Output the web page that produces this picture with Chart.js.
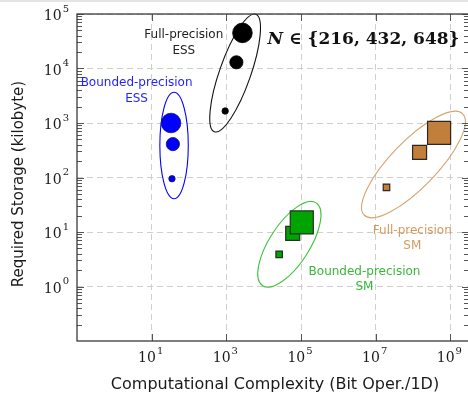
<!DOCTYPE html>
<html>
<head>
<meta charset="utf-8">
<script src="https://cdn.jsdelivr.net/npm/chart.js@4"></script>
<style>
  html, body { margin: 0; padding: 0; background: #fff; overflow: hidden; }
  #wrap { position: relative; width: 470px; height: 395px; }
  #topline { position: absolute; left: 0; top: 0; width: 468px; height: 2px; background: #e4e4e4; }
</style>
</head>
<body>
<div id="wrap"><canvas id="chart" width="470" height="395"></canvas></div>
<div id="topline"></div>
<script>
// tick values
const xTicks = [1e1, 1e3, 1e5, 1e7, 1e9];
const yTicks = [1e0, 1e1, 1e2, 1e3, 1e4, 1e5];
const nValues = [216, 432, 648];

// one point per N (216, 432, 648)
const fullEssX = [930, 1860, 2700];
const fullEssY = [1660, 13000, 45000];
const boundEssX = [35, 37, 33];
const boundEssY = [95, 410, 1000];
const fullSmX = [1.95e7, 1.5e8, 5.0e8];
const fullSmY = [66, 290, 660];
const boundSmX = [2.6e4, 6.0e4, 1.05e5];
const boundSmY = [3.9, 9.4, 15];

// group rings and captions, in data coordinates
const groups = [
  { ring: "#0000ff", text: "#1f1fff", center: [39.8, 386], tip: [39.8, 3660], ratio: 0.267,
    lines: ["Bounded-precision", "ESS"], at: [3.94, 5420] },
  { ring: "#111111", text: "#222222", center: [1720, 8260], tip: [6150, 99000], ratio: 0.25,
    lines: ["Full-precision", "ESS"], at: [72.6, 41200] },
  { ring: "#3cc43c", text: "#38b838", center: [48800, 5.94], tip: [254000, 34.2], ratio: 0.406,
    lines: ["Bounded-precision", "SM"], at: [5.02e6, 1.88] },
  { ring: "#d6a46e", text: "#d29a5e", center: [1.03e8, 173], tip: [2.13e9, 1475], ratio: 0.327,
    lines: ["Full-precision", "SM"], at: [9.57e7, 10.5] },
];

const circleRadius = [3.2, 6.6, 9.8];
const squareRadius = [4.6, 9.9, 16.3];

const pts = (xs, ys) => xs.map((x, i) => ({ x: x, y: ys[i] }));

function drawPow(ctx, v, x, y, align) {
  const e = String(Math.round(Math.log10(v)));
  ctx.font = "14px 'DejaVu Serif'";
  const wb = ctx.measureText("10").width;
  ctx.font = "10px 'DejaVu Serif'";
  const we = ctx.measureText(e).width + 1;
  let x0 = align === "right" ? x - wb - we : x - (wb + we) / 2;
  ctx.textAlign = "left";
  ctx.textBaseline = "alphabetic";
  ctx.font = "14px 'DejaVu Serif'";
  ctx.fillText("10", x0, y + 6);
  ctx.font = "10px 'DejaVu Serif'";
  ctx.fillText(e, x0 + wb + 1, y - 2.5);
}

const decor = {
  id: "decor",
  beforeDatasetsDraw(chart) {
    const { ctx, scales: { x, y } } = chart;
    ctx.save();
    ctx.lineWidth = 1.1;
    groups.forEach((g) => {
      const cx = x.getPixelForValue(g.center[0]), cy = y.getPixelForValue(g.center[1]);
      const tx = x.getPixelForValue(g.tip[0]), ty = y.getPixelForValue(g.tip[1]);
      const a = Math.hypot(tx - cx, ty - cy);
      ctx.beginPath();
      ctx.ellipse(cx, cy, a, a * g.ratio, Math.atan2(ty - cy, tx - cx), 0, Math.PI * 2);
      ctx.strokeStyle = g.ring;
      ctx.stroke();
    });
    ctx.restore();
  },
  afterDraw(chart) {
    const { ctx, chartArea: ca, scales: { x, y } } = chart;
    ctx.save();

    // ticks, inward
    ctx.strokeStyle = "#555";
    ctx.lineWidth = 1;
    ctx.beginPath();
    for (let p = -1; p < 5; p++) {
      for (let k = 2; k < 10; k++) {
        const py = Math.round(y.getPixelForValue(k * Math.pow(10, p))) + 0.5;
        ctx.moveTo(ca.left, py); ctx.lineTo(ca.left + 5, py);
        ctx.moveTo(ca.right, py); ctx.lineTo(ca.right - 5, py);
      }
    }
    yTicks.forEach((v) => {
      const py = Math.round(y.getPixelForValue(v)) + 0.5;
      ctx.moveTo(ca.left, py); ctx.lineTo(ca.left + 7, py);
      ctx.moveTo(ca.right, py); ctx.lineTo(ca.right - 7, py);
    });
    xTicks.forEach((v) => {
      const px = Math.round(x.getPixelForValue(v)) + 0.5;
      ctx.moveTo(px, ca.bottom); ctx.lineTo(px, ca.bottom - 7);
      ctx.moveTo(px, ca.top); ctx.lineTo(px, ca.top + 7);
    });
    ctx.stroke();

    // frame
    ctx.strokeStyle = "#3a3a3a";
    ctx.lineWidth = 1.3;
    ctx.strokeRect(ca.left, ca.top, ca.right - ca.left, ca.bottom - ca.top);

    // tick labels
    ctx.fillStyle = "#1a1a1a";
    yTicks.forEach((v) => drawPow(ctx, v, ca.left - 8, y.getPixelForValue(v), "right"));
    xTicks.forEach((v) => drawPow(ctx, v, x.getPixelForValue(v) - 1, 356, "center"));

    // axis titles
    ctx.textAlign = "center";
    ctx.textBaseline = "middle";
    ctx.font = "16px 'DejaVu Sans'";
    ctx.fillText("Computational Complexity (Bit Oper./1D)", (ca.left + ca.right) / 2 + 2, 385);
    ctx.save();
    ctx.font = "15px 'DejaVu Sans'";
    ctx.translate(19, 184);
    ctx.rotate(-Math.PI / 2);
    ctx.fillText("Required Storage (kilobyte)", 0, 0);
    ctx.restore();

    // group captions
    ctx.font = "12px 'DejaVu Sans'";
    groups.forEach((g) => {
      const px = x.getPixelForValue(g.at[0]), py = y.getPixelForValue(g.at[1]);
      ctx.fillStyle = g.text;
      g.lines.forEach((t, i) => ctx.fillText(t, px, py + i * 15.5));
    });

    // N caption
    const nx = x.getPixelForValue(4.73e6), ny = y.getPixelForValue(33300);
    const head = "N";
    const tail = " \u2208 {" + nValues.join(", ") + "}";
    ctx.fillStyle = "#111";
    ctx.font = "bold italic 17px 'DejaVu Serif'";
    const w1 = ctx.measureText(head).width;
    ctx.font = "bold 17px 'DejaVu Serif'";
    const w2 = ctx.measureText(tail).width;
    const sx = nx - (w1 + w2) / 2;
    ctx.textAlign = "left";
    ctx.font = "bold italic 17px 'DejaVu Serif'";
    ctx.fillText(head, sx, ny);
    ctx.font = "bold 17px 'DejaVu Serif'";
    ctx.fillText(tail, sx + w1, ny);

    ctx.restore();
  },
};

const ctx = document.getElementById("chart").getContext("2d");

new Chart(ctx, {
  type: "scatter",
  data: {
    datasets: [
      {
        label: "Bounded-precision ESS",
        data: pts(boundEssX, boundEssY),
        pointStyle: "circle",
        pointRadius: circleRadius,
        backgroundColor: "#0000ff",
        borderColor: "#10107a",
        borderWidth: 0.8,
      },
      {
        label: "Full-precision ESS",
        data: pts(fullEssX, fullEssY),
        pointStyle: "circle",
        pointRadius: circleRadius,
        backgroundColor: "#000000",
        borderColor: "#000000",
        borderWidth: 0.8,
      },
      {
        label: "Bounded-precision SM",
        data: pts(boundSmX, boundSmY),
        pointStyle: "rect",
        pointRadius: squareRadius,
        backgroundColor: "#00a400",
        borderColor: "#243024",
        borderWidth: 1.2,
      },
      {
        label: "Full-precision SM",
        data: pts(fullSmX, fullSmY),
        pointStyle: "rect",
        pointRadius: squareRadius,
        backgroundColor: "#c27e3b",
        borderColor: "#2c2620",
        borderWidth: 1.2,
      },
    ],
  },
  options: {
    responsive: false,
    animation: false,
    layout: { autoPadding: false, padding: { left: 77, top: 14, right: 1, bottom: 54 } },
    plugins: { legend: { display: false }, tooltip: { enabled: false } },
    scales: {
      x: {
        type: "logarithmic",
        min: 0.1,
        max: Math.pow(10, 9.5),
        afterBuildTicks: (scale) => { scale.ticks = xTicks.map((v) => ({ value: v })); },
        ticks: { display: false },
        grid: { color: "#cfcfcf", drawTicks: false },
        border: { display: false, dash: [6, 4] },
      },
      y: {
        type: "logarithmic",
        min: 0.1,
        max: 1e5,
        afterBuildTicks: (scale) => { scale.ticks = yTicks.map((v) => ({ value: v })); },
        ticks: { display: false },
        grid: { color: "#cfcfcf", drawTicks: false },
        border: { display: false, dash: [6, 4] },
      },
    },
  },
  plugins: [decor],
});
</script>
</body>
</html>
